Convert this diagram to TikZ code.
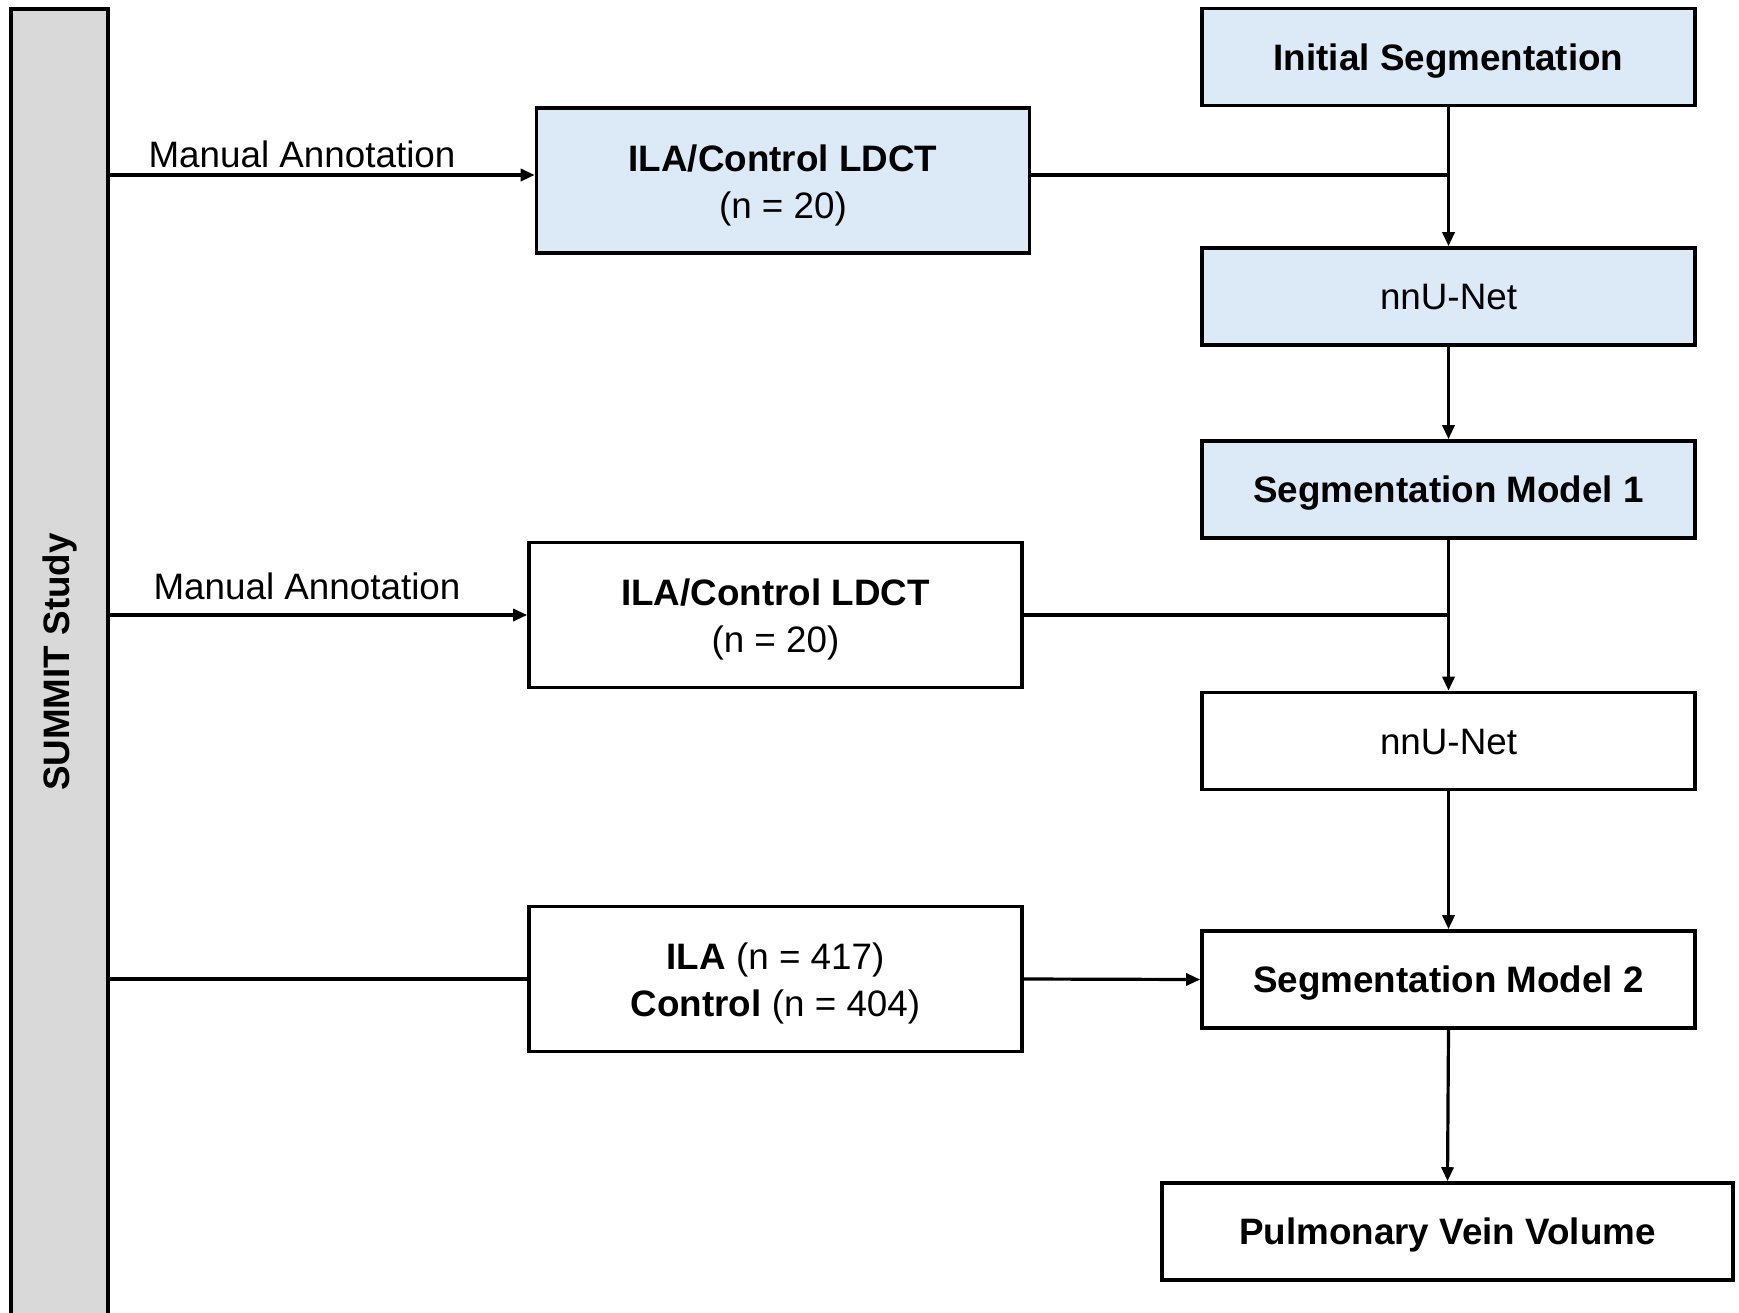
\documentclass[tikz,border=0pt]{standalone}
\usepackage{fontspec}
\setmainfont{Liberation Sans}
\usetikzlibrary{arrows.meta}
\definecolor{boxblue}{HTML}{DCE9F6}
\definecolor{bargray}{HTML}{D9D9D9}
\begin{document}
\begin{tikzpicture}[x=0.5pt,y=-0.5pt,
  every node/.style={font=\fontsize{18.4}{23.3}\selectfont},
  box/.style={draw=black,line width=1.8pt,rectangle,inner sep=0pt,align=center,
    minimum width=246.5pt},
  rbox/.style={box,minimum height=48.5pt,text height=13.2pt,text depth=0pt},
  tbox/.style={box,minimum height=72.5pt,text height=37.5pt,text depth=0pt},
  bf/.style={font=\fontsize{18.4}{23.3}\selectfont\bfseries},
  blue/.style={fill=boxblue},
  conn/.style={line width=1.6pt},
  arr/.style={conn,-{Triangle[length=7pt,width=6pt]}},
  lab/.style={inner sep=0pt}]
\useasboundingbox (0,0) rectangle (1739,1312);
\fill[white] (0,0) rectangle (1739,1312);
% left bar
\node[draw=black,line width=1.8pt,fill=bargray,minimum width=48.5pt,minimum height=660pt,inner sep=0pt] (summit) at (59.5,669) {};
\node[rotate=90,bf,inner sep=0pt] (summittext) at (summit.center |- 0,662) {SUMMIT Study};
% right column
\node[rbox,blue,bf] (init) at (1448.5,57) {Initial Segmentation};
\node[rbox,blue] (nn1) at (1448.5,296.5) {nnU-Net};
\node[rbox,blue,bf] (seg1) at (1448.5,489.5) {Segmentation Model 1};
\node[rbox] (nn2) at (1448.5,741) {nnU-Net};
\node[rbox,bf] (seg2) at (1448.5,979.5) {Segmentation Model 2};
\node[rbox,minimum width=285.5pt,bf] (pvv) at (1447.5,1231.5) {Pulmonary Vein Volume};
% middle column
\node[tbox,blue] (a1) at (783,180.5) {\textbf{ILA/Control LDCT}\\(n = 20)};
\node[tbox] (a2) at (775.5,615) {\textbf{ILA/Control LDCT}\\(n = 20)};
\node[tbox] (a3) at (775.5,979) {\textbf{ILA} (n = 417)\\\textbf{Control} (n = 404)};
% labels
\node[lab] (l1) at (302,154) {Manual Annotation};
\node[lab] (l2) at (307,586) {Manual Annotation};
% connectors
\draw[arr] (summit.east |- 0,175) -- (a1.west |- 0,175);
\draw[arr] (summit.east |- a2.west) -- (a2.west);
\draw[conn] (summit.east |- a3.west) -- (a3.west);
\draw[arr] (a3.east) -- (seg2.west);
\draw[conn] (a1.east |- 0,175) -- (init.south |- 0,175);
\draw[conn] (a2.east) -- (a2.east -| seg1.south);
\draw[arr] (init.south) -- (nn1.north);
\draw[arr] (nn1.south) -- (seg1.north);
\draw[arr] (seg1.south) -- (nn2.north);
\draw[arr] (nn2.south) -- (seg2.north);
\draw[arr] (seg2.south) -- (pvv.north);
\end{tikzpicture}
\end{document}
